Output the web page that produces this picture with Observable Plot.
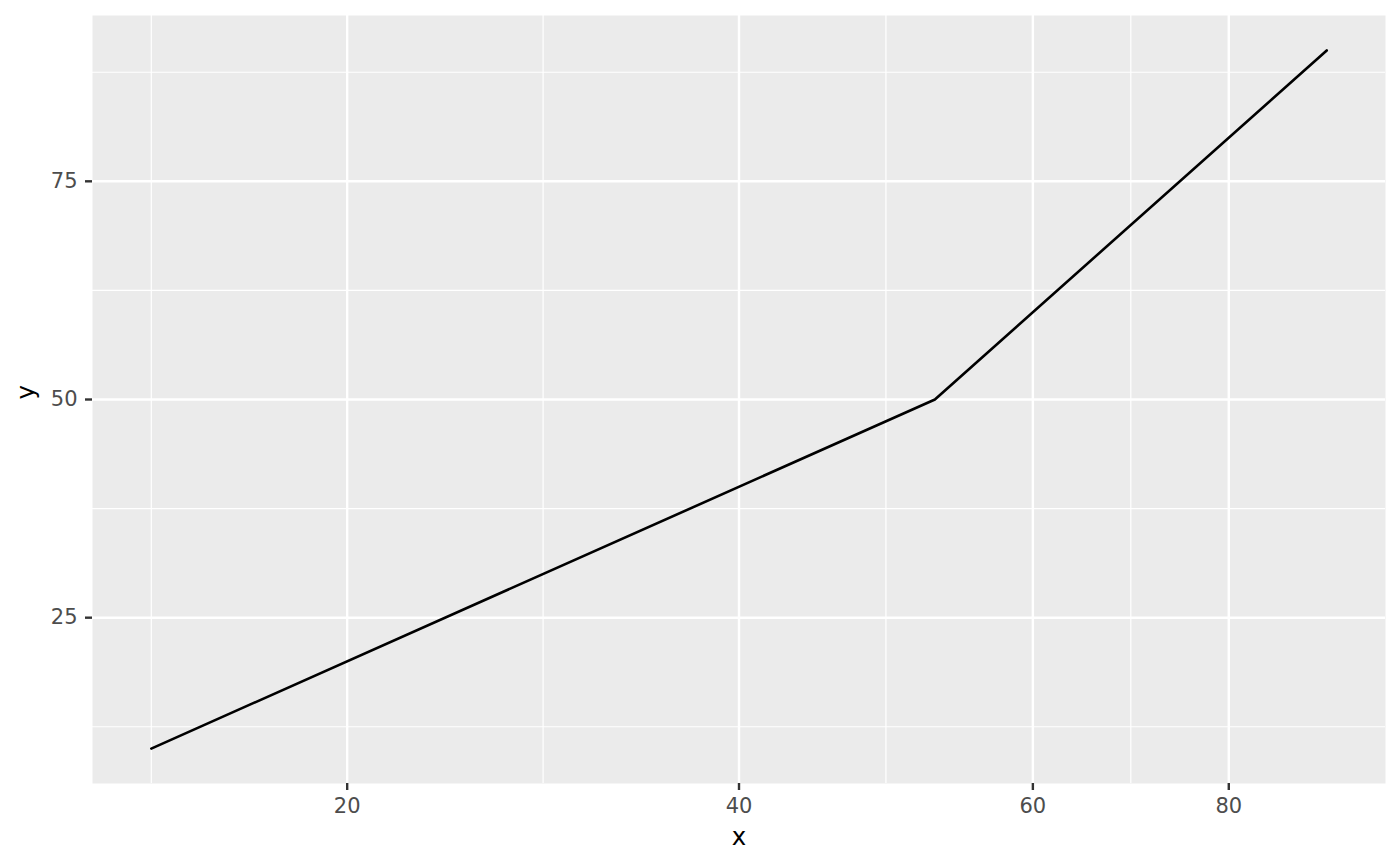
<!DOCTYPE html>
<html><head><meta charset="utf-8">
<script src="https://cdn.jsdelivr.net/npm/d3@7"></script>
<script src="https://cdn.jsdelivr.net/npm/@observablehq/plot@0.6"></script>
<style>body{margin:0;background:#fff;}</style>
</head><body><div id="chart"></div>
<script>
// Data
const xValues = [10, 50, 90];
const yValues = [10, 50, 90];
const xBreaks = [20, 40, 60, 80];
const xMinorBreaks = [10, 30, 47.5, 70];
const yBreaks = [25, 50, 75];
const yMinorBreaks = [12.5, 37.5, 62.5, 87.5];
const squishFrom = 50, squishFactor = 2; // x scale squished above 50

const data = xValues.map((x, i) => ({x, y: yValues[i]}));
const W = 1400, H = 866, mL = 92, mR = 15, mT = 15, mB = 83;
const fwd = x => x <= squishFrom ? x : squishFrom + (x - squishFrom) / squishFactor;
const inv = t => t <= squishFrom ? t : squishFrom + (t - squishFrom) * squishFactor;
const [t0, t1] = d3.extent(xValues, fwd);
const tpad = (t1 - t0) * 0.05;
const tlo = t0 - tpad, thi = t1 + tpad;
const left = mL, right = W - mR;
const xDomain = [inv(tlo), squishFrom, inv(thi)];
const xRange = [left, left + (squishFrom - tlo) / (thi - tlo) * (right - left), right];
const [y0, y1] = d3.extent(yValues);
const ypad = (y1 - y0) * 0.05;

const chart = Plot.plot({
  width: W, height: H,
  marginLeft: mL, marginRight: mR, marginTop: mT, marginBottom: mB,
  style: {fontFamily: "DejaVu Sans", fontSize: "21px", background: "#fff"},
  x: {type: "linear", domain: xDomain, range: xRange, axis: null},
  y: {type: "linear", domain: [y0 - ypad, y1 + ypad], axis: null},
  marks: [
    Plot.frame({fill: "#EBEBEB", stroke: null}),
    Plot.ruleX(xMinorBreaks, {stroke: "#FFFFFF", strokeWidth: 1.2}),
    Plot.ruleY(yMinorBreaks, {stroke: "#FFFFFF", strokeWidth: 1.2}),
    Plot.ruleX(xBreaks, {stroke: "#FFFFFF", strokeWidth: 2.4}),
    Plot.ruleY(yBreaks, {stroke: "#FFFFFF", strokeWidth: 2.4}),
    Plot.line(data, {x: "x", y: "y", stroke: "#000", strokeWidth: 2.6}),
    Plot.axisX({ticks: xBreaks, tickSize: 7, tickPadding: 8, label: null, fontSize: 21,
      stroke: "#333333", fill: "#4D4D4D", strokeWidth: 2.4, tickFormat: d3.format("d")}),
    Plot.axisY({ticks: yBreaks, tickSize: 7, tickPadding: 8, label: null, fontSize: 21,
      stroke: "#333333", fill: "#4D4D4D", strokeWidth: 2.4, tickFormat: d3.format("d")}),
    Plot.text(["x"], {frameAnchor: "bottom", dy: 54, fontSize: 24.4, fill: "#000", lineAnchor: "middle"}),
    Plot.text(["y"], {frameAnchor: "left", dx: -66, rotate: -90, fontSize: 24.4, fill: "#000", lineAnchor: "middle"})
  ]
});
document.getElementById("chart").appendChild(chart);
</script>
</body></html>
